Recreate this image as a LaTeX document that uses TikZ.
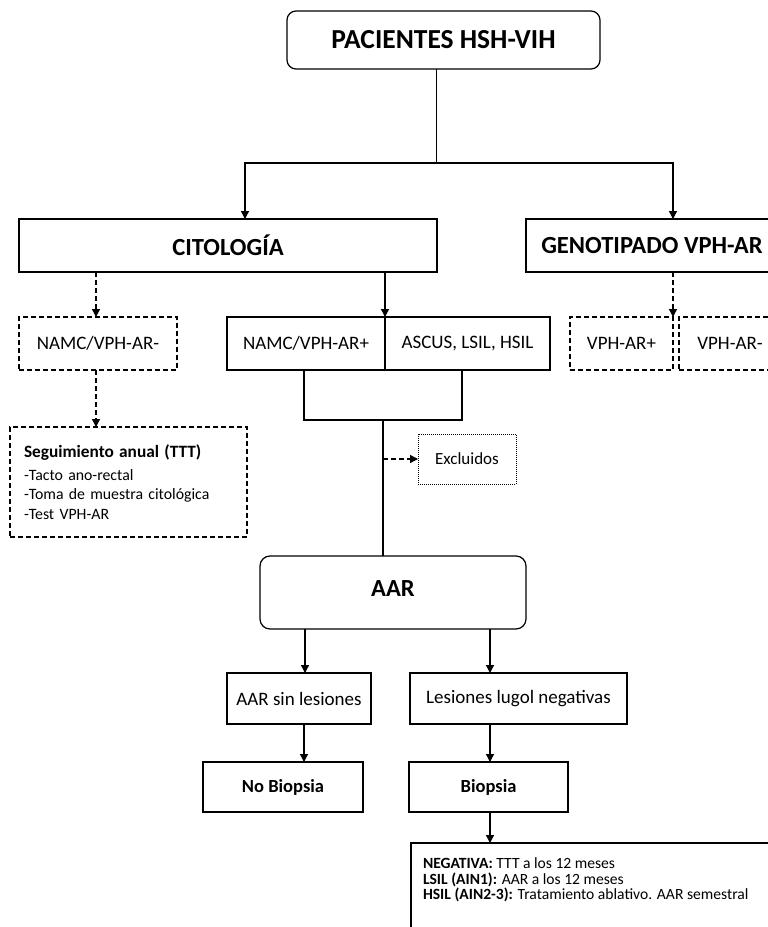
\documentclass[tikz,border=0pt]{standalone}
\usepackage{fontspec}
\setmainfont{Carlito}
\usetikzlibrary{arrows.meta}
\begin{document}
\begin{tikzpicture}[x=1pt,y=-1pt,
  every node/.style={inner sep=0pt, outer sep=0pt, font=\fontsize{19}{22}\selectfont},
  box/.style={draw, line width=1.2pt, rectangle},
  rbox/.style={box, rounded corners=9pt},
  dbox/.style={box, dash pattern=on 5pt off 3pt},
  obox/.style={draw, line width=0.8pt, dash pattern=on 1pt off 1pt},
  big/.style={font=\fontsize{24.6}{28}\selectfont\bfseries},
  bbold/.style={font=\fontsize{18.5}{22}\selectfont\bfseries},
  link/.style={line width=1.3pt},
  arr/.style={link, -{Triangle[length=8pt,width=8pt]}},
  darr/.style={arr, dash pattern=on 5pt off 3pt},
]
\useasboundingbox (0,0) rectangle (768,927);
\fill[white] (0,0) rectangle (768,927);
\clip (0,0) rectangle (768,927);

% top level
\node[rbox, minimum width=313pt, minimum height=58pt,
      font=\fontsize{27.5}{31}\selectfont\bfseries] (pac) at (443.5,40) {PACIENTES HSH-VIH};
\node[box, big, minimum width=418pt, minimum height=53pt] (cit) at (228,245.5) {CITOLOGÍA};
\node[box, big, minimum width=252pt, minimum height=53pt] (geno) at (652,245.5) {GENOTIPADO VPH-AR};

\coordinate (split) at (436.5,163);
\draw[link] ([xshift=-7pt]pac.south) -- (split);
\draw[arr] (split) -| ([xshift=17pt]cit.north);
\draw[arr] (split) -| ([xshift=21pt]geno.north);

% results of the tests
\node[dbox, minimum width=158pt, minimum height=53pt] (namcm) at (98,343.5) {NAMC/VPH-AR-};
\node[box, minimum width=158pt, minimum height=53pt] (namcp) at (306,343.5) {NAMC/VPH-AR+};
\node[box, minimum width=165pt, minimum height=53pt] (ascus) at (467.5,343.5) {ASCUS, LSIL, HSIL};
\node[dbox, minimum width=103pt, minimum height=53pt] (vphp) at (621.5,343.5) {VPH-AR+};
\node[dbox, minimum width=102pt, minimum height=53pt] (vphm) at (730,343.5) {VPH-AR-};

\draw[darr] ([xshift=-132pt]cit.south) -- ([xshift=-132pt]cit.south |- namcm.north);
\draw[arr] ([xshift=157pt]cit.south) -- (namcp.north east);
\draw[darr] ([xshift=21pt]geno.south) -- (vphp.north east);

% annual follow-up
\node[dbox, minimum width=237pt, minimum height=110pt, align=left, text width=209pt,
      inner xsep=14pt, font=\fontsize{15.8}{19.5}\selectfont] (seg) at (128.5,482)
  {{\fontsize{17.3}{20}\selectfont\bfseries Seguimiento anual (TTT)}\\[3pt]
   -Tacto ano-rectal\\
   -Toma de muestra citológica\\
   -Test VPH-AR};
\draw[darr] ([xshift=-2pt]namcm.south) -- ([xshift=-2pt]namcm.south |- seg.north);

% joining bracket and exclusions
\node[box, minimum width=158pt, minimum height=50pt] (brk) at (383,395) {};
\node[obox, minimum width=98pt, minimum height=50pt, font=\fontsize{17}{20}\selectfont] (excl) at (467,459) {Excluidos};

% anoscopy
\node[rbox, big, rounded corners=10pt, minimum width=266pt, minimum height=73pt,
      text depth=8pt] (aar) at (393,592.5) {AAR};
\draw[link] (brk.south) -- (brk.south |- aar.north);
\draw[darr] (brk.south |- excl.west) -- (excl.west);

\node[box, minimum width=144pt, minimum height=51pt] (sinl) at (299,698.5) {AAR sin lesiones};
\node[box, minimum width=217pt, minimum height=51pt] (lug) at (518.5,698.5) {Lesiones lugol negativas};
\draw[arr] ([xshift=-88pt]aar.south) -- ([xshift=-88pt]aar.south |- sinl.north);
\draw[arr] ([xshift=97pt]aar.south) -- ([xshift=97pt]aar.south |- lug.north);

\node[box, bbold, minimum width=160pt, minimum height=50pt] (nob) at (283,787) {No Biopsia};
\node[box, bbold, minimum width=159pt, minimum height=50pt] (bio) at (488.5,787) {Biopsia};
\draw[arr] ([xshift=5pt]sinl.south) -- ([xshift=5pt]sinl.south |- nob.north);
\draw[arr] ([xshift=-28.5pt]lug.south) -- ([xshift=-28.5pt]lug.south |- bio.north);

% biopsy outcome
\node[box, minimum width=420pt, minimum height=120pt, anchor=north west] (res) at (411,843) {};
\node[anchor=north west, align=left,
      font={\fontsize{15.6}{15.5}\selectfont}] (restxt)
  at ([xshift=12pt,yshift=-15pt]res.north west)
  {\textbf{NEGATIVA:} TTT a los 12 meses\\
   \textbf{LSIL (AIN1):} AAR a los 12 meses\\
   \textbf{HSIL (AIN2-3):} Tratamiento ablativo. AAR semestral};
\draw[arr] ([xshift=1.5pt]bio.south) -- ([xshift=1.5pt]bio.south |- res.north);
\end{tikzpicture}
\end{document}
